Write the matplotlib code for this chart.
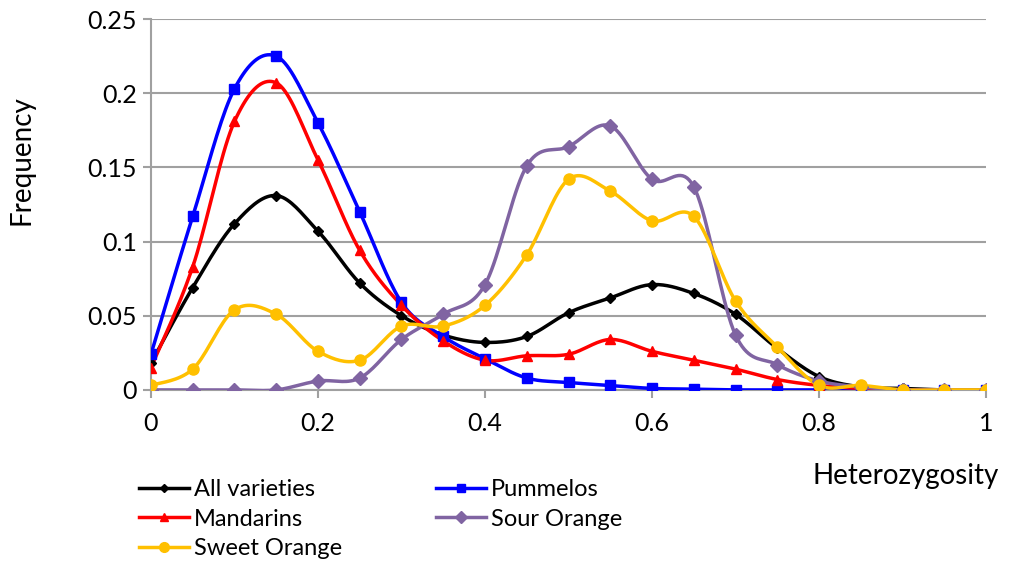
import numpy as np
import matplotlib
matplotlib.use('Agg')
import matplotlib.pyplot as plt

plt.rcParams['font.family'] = ['Lato', 'DejaVu Sans']

# Heterozygosity bins
x = [0, 0.05, 0.1, 0.15, 0.2, 0.25, 0.3, 0.35, 0.4, 0.45, 0.5,
     0.55, 0.6, 0.65, 0.7, 0.75, 0.8, 0.85, 0.9, 0.95, 1.0]

all_varieties = [0.018, 0.069, 0.112, 0.131, 0.107, 0.072, 0.050, 0.037, 0.032, 0.036, 0.052,
                 0.062, 0.071, 0.065, 0.051, 0.028, 0.009, 0.002, 0.001, 0.0, 0.0]
pummelos = [0.024, 0.117, 0.203, 0.225, 0.180, 0.120, 0.059, 0.036, 0.021, 0.008, 0.005,
            0.003, 0.001, 0.0005, 0.0, 0.0, 0.0, 0.0, 0.0, 0.0, 0.0]
mandarins = [0.015, 0.083, 0.181, 0.207, 0.155, 0.094, 0.057, 0.033, 0.020, 0.023, 0.024,
             0.034, 0.026, 0.020, 0.014, 0.007, 0.003, 0.001, 0.0, 0.0, 0.0]
sour_orange = [0.0, 0.0, 0.0, 0.0, 0.006, 0.008, 0.034, 0.051, 0.071, 0.151, 0.164,
               0.178, 0.142, 0.137, 0.037, 0.017, 0.006, 0.002, 0.0, 0.0, 0.0]
sweet_orange = [0.003, 0.014, 0.054, 0.051, 0.026, 0.020, 0.043, 0.043, 0.057, 0.091, 0.142,
                0.134, 0.114, 0.117, 0.060, 0.029, 0.003, 0.003, 0.0, 0.0, 0.0]


def smooth(xs, ys, n=20):
    # Excel-style smoothed line (Catmull-Rom through the points)
    px = np.concatenate([[xs[0]], xs, [xs[-1]]])
    py = np.concatenate([[ys[0]], ys, [ys[-1]]])
    pts = np.column_stack([px, py])
    t = np.linspace(0, 1, n)
    out = []
    for i in range(1, len(pts) - 2):
        p0, p1, p2, p3 = pts[i - 1], pts[i], pts[i + 1], pts[i + 2]
        c1 = p1 + (p2 - p0) / 6
        c2 = p2 - (p3 - p1) / 6
        b = (np.outer((1 - t) ** 3, p1) + np.outer(3 * (1 - t) ** 2 * t, c1)
             + np.outer(3 * (1 - t) * t ** 2, c2) + np.outer(t ** 3, p2))
        out.append(b)
    out = np.vstack(out)
    return out[:, 0], out[:, 1]


fig = plt.figure(figsize=(10.16, 5.61), dpi=100)
ax = fig.add_axes([0.1486, 0.305, 0.8219, 0.661])

series = {
    'All varieties': (all_varieties, 'black', 'D', 5),
    'Pummelos': (pummelos, '#0000FF', 's', 7),
    'Mandarins': (mandarins, '#FF0000', '^', 7),
    'Sour Orange': (sour_orange, '#8064A2', 'D', 7),
    'Sweet Orange': (sweet_orange, '#FFC000', 'o', 8),
}

handles = {}
for name, (ys, color, marker, ms) in series.items():
    sx, sy = smooth(x, ys)
    ax.plot(sx, sy, color=color, lw=2.5, zorder=3)
    ax.plot(x, ys, linestyle='none', marker=marker, color=color, ms=ms, zorder=4)
    h, = ax.plot([], [], color=color, lw=2.5, marker=marker, ms=ms - 1)
    handles[name] = h

ax.set_xlim(0, 1)
ax.set_ylim(0, 0.25)
ax.set_xticks([0, 0.2, 0.4, 0.6, 0.8, 1])
ax.set_xticklabels(['0', '0.2', '0.4', '0.6', '0.8', '1'])
ax.set_yticks([0, 0.05, 0.1, 0.15, 0.2, 0.25])
ax.set_yticklabels(['0', '0.05', '0.1', '0.15', '0.2', '0.25'])
ax.yaxis.grid(True, color='#A0A0A0', lw=1.5)
ax.set_axisbelow(True)
for s in ['top', 'right']:
    ax.spines[s].set_visible(False)
for s in ['left', 'bottom']:
    ax.spines[s].set_color('#A0A0A0')
    ax.spines[s].set_linewidth(1.5)
ax.tick_params(axis='both', colors='#A0A0A0', labelcolor='black', labelsize=18,
               length=6, width=1.5)
ax.tick_params(axis='x', pad=10)
ax.tick_params(axis='y', pad=4)

ax.set_ylabel('Frequency', fontsize=20)
ax.yaxis.set_label_coords(-0.14, 0.62)
fig.text(0.983, 0.152, 'Heterozygosity', fontsize=20, ha='right', va='center')

order = ['All varieties', 'Mandarins', 'Sweet Orange', 'Pummelos', 'Sour Orange']
fig.legend(handles=[handles[k] for k in order], labels=order, ncol=2,
           loc='upper left', bbox_to_anchor=(0.128, 0.163), frameon=False,
           fontsize=17, handlelength=2.1, handletextpad=0.2,
           columnspacing=4.0, labelspacing=0.37, borderaxespad=0)

fig.savefig('out.png', dpi=100)
